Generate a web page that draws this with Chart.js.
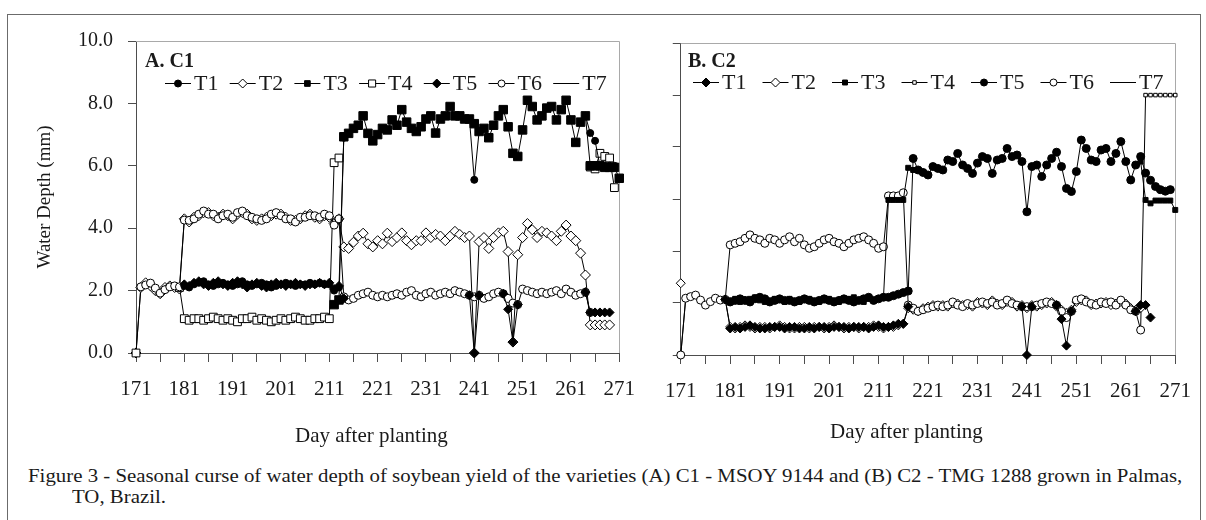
<!DOCTYPE html>
<html>
<head>
<meta charset="utf-8">
<script src="https://cdn.jsdelivr.net/npm/chart.js@4.4.1/dist/chart.umd.min.js"></script>
<style>
  body { margin: 0; background: #fff; }
  #page { position: relative; width: 1206px; height: 520px; overflow: hidden; background: #fff;
          font-family: 'Liberation Serif', 'Times New Roman', serif; }
  #frame { position: absolute; left: 7px; top: 14px; width: 1192px; height: 520px; border: 1px solid #6b6b6b; }
  canvas { position: absolute; top: 0; }
  #chartA { left: 0; }
  #chartB { left: 650px; }
  .xtitle { position: absolute; font-size: 21px; line-height: 26px; color: #1a1a1a; white-space: nowrap; }
  .caption { position: absolute; font-size: 19px; line-height: 23px; color: #1a1a1a; white-space: nowrap;
             transform: scaleX(1.097); transform-origin: left top; }
</style>
</head>
<body>
<div id="page">
  <div id="frame"></div>
  <canvas id="chartA" width="650" height="460"></canvas>
  <canvas id="chartB" width="556" height="460"></canvas>
  <div class="xtitle" style="left:295px; top:422px;">Day after planting</div>
  <div class="xtitle" style="left:830px; top:418px;">Day after planting</div>
  <div class="caption" style="left:28px; top:464px;">Figure 3 - Seasonal curse of water depth of soybean yield of the varieties (A) C1 - MSOY 9144 and (B) C2 - TMG 1288 grown in Palmas,</div>
  <div class="caption" style="left:72px; top:485px;">TO, Brazil.</div>
</div>
<script>
// jours apres plantation : index 0 = jour 171, un point par jour jusqu'a 271
const FIRST_DAY = 171;
const _ = null;

const X_TICKS = [171, 176, 181, 186, 191, 196, 201, 206, 211, 216, 221, 226, 231, 236, 241, 246, 251, 256, 261, 266, 271];
const X_TICK_LABELS = ['171', '', '181', '', '191', '', '201', '', '211', '', '221', '', '231', '', '241', '', '251', '', '261', '', '271'];
const A_Y_TICKS = [0, 2, 4, 6, 8, 10];
const B_Y_TICKS = [0, 1.667, 3.333, 5, 6.667, 8.333, 10];
const SERIES = ['T1', 'T2', 'T3', 'T4', 'T5', 'T6', 'T7'];

// ---- A. C1 ----
const A_T1 = [
  _, _, _, _, _, _, _, _, _, _,
  2.15, 2.1, 2.2, 2.25, 2.3, 2.2, 2.15, 2.2, 2.25, 2.2,
  2.15, 2.2, 2.3, 2.2, 2.15, 2.2, 2.25, 2.2, 2.1, 2.15,
  2.2, 2.25, 2.2, 2.15, 2.2, 2.2, 2.25, 2.2, 2.25, 2.2,
  2.2, 2.0, 2.1, 6.9, _, _, _, _, _, _,
  _, _, _, _, _, _, _, _, _, _,
  _, _, _, _, _, _, _, _, _, 7.5,
  5.55, 7.1, _, _, _, _, _, _, _, _,
  _, _, _, _, _, _, _, _, _, _,
  _, _, _, 7.6, 7.05, 6.8, 6.0, 6.0, 6.0, 6.0,
  _
];
const A_T2 = [
  0, 2.1, 2.25, 2.15, 2.0, 1.9, 2.1, 2.15, 2.1, 2.05,
  4.3, 4.2, 4.35, 4.4, 4.5, 4.5, 4.4, 4.35, 4.45, 4.4,
  4.3, 4.45, 4.5, 4.45, 4.3, 4.25, 4.3, 4.35, 4.4, 4.45,
  4.45, 4.35, 4.25, 4.25, 4.3, 4.4, 4.45, 4.35, 4.3, 4.4,
  4.35, 4.15, 4.3, 3.4, 3.35, 3.55, 3.75, 3.84, 3.5, 3.4,
  3.6, 3.5, 3.84, 3.57, 3.7, 3.85, 3.6, 3.47, 3.6, 3.6,
  3.85, 3.7, 3.8, 3.75, 3.6, 3.75, 3.9, 3.8, 3.7, 3.75,
  0, 3.57, 3.7, 3.35, 3.7, 3.85, 3.9, 3.25, 0.35, 3.15,
  3.7, 4.15, 3.95, 3.7, 3.9, 3.85, 3.75, 3.6, 3.9, 4.1,
  3.75, 3.6, 3.2, 2.5, 0.9, 0.9, 0.9, 0.9, 0.9, _,
  _
];
const A_T3 = [
  _, _, _, _, _, _, _, _, _, _,
  _, _, _, _, _, _, _, _, _, _,
  _, _, _, _, _, _, _, _, _, _,
  _, _, _, _, _, _, _, _, _, _,
  _, 1.55, 1.7, 6.93, 7.04, 7.2, 7.3, 7.6, 7.04, 6.8,
  7.0, 7.2, 7.15, 7.47, 7.3, 7.8, 7.4, 7.2, 7.1, 7.25,
  7.5, 7.6, 7.05, 7.5, 7.6, 7.9, 7.6, 7.6, 7.5, 7.5,
  7.35, 7.1, 7.2, 6.9, 7.3, 7.6, 7.8, 7.25, 6.4, 6.3,
  7.15, 8.1, 7.9, 7.47, 7.6, 7.85, 7.9, 7.47, 7.8, 8.1,
  7.47, 6.75, 7.4, 7.6, 6.0, 6.0, 6.0, 5.95, 5.95, 5.95,
  5.6
];
const A_T4 = [
  0, _, _, _, _, _, _, _, _, 2.1,
  1.1, 1.05, 1.1, 1.1, 1.05, 1.1, 1.15, 1.1, 1.05, 1.1,
  1.05, 1.0, 1.1, 1.1, 1.15, 1.05, 1.1, 1.05, 1.0, 1.05,
  1.1, 1.05, 1.1, 1.15, 1.1, 1.05, 1.05, 1.1, 1.1, 1.15,
  1.1, 6.1, 6.25, _, _, _, _, _, _, _,
  _, _, _, _, _, _, _, _, _, _,
  _, _, _, _, _, _, _, _, _, _,
  _, _, _, _, _, _, _, _, _, _,
  _, _, _, _, _, _, _, _, _, _,
  _, _, _, _, 5.96, 5.9, 6.4, 6.3, 6.25, 5.3,
  _
];
const A_T5 = [
  _, _, _, _, _, _, _, _, _, _,
  2.2, 2.15, 2.25, 2.3, 2.2, 2.15, 2.25, 2.3, 2.2, 2.15,
  2.25, 2.3, 2.2, 2.1, 2.2, 2.25, 2.15, 2.1, 2.2, 2.25,
  2.2, 2.15, 2.2, 2.25, 2.2, 2.15, 2.2, 2.2, 2.25, 2.2,
  2.25, 2.05, 2.15, 1.75, _, _, _, _, _, _,
  _, _, _, _, _, _, _, _, _, _,
  _, _, _, _, _, _, _, _, _, 1.85,
  0, 1.85, _, _, _, _, 1.9, 1.4, 0.35, 1.55,
  _, _, _, _, _, _, _, _, _, _,
  _, _, _, 1.95, 1.3, 1.3, 1.3, 1.3, 1.3, _,
  _
];
const A_T6 = [
  _, 2.12, 2.18, 2.24, 2.08, 1.92, 2.03, 2.12, 2.15, 2.12,
  4.26, 4.25, 4.3, 4.45, 4.55, 4.45, 4.45, 4.3, 4.4, 4.45,
  4.35, 4.5, 4.55, 4.4, 4.35, 4.3, 4.25, 4.3, 4.45, 4.5,
  4.4, 4.3, 4.3, 4.2, 4.35, 4.35, 4.4, 4.4, 4.35, 4.45,
  4.4, 4.1, 4.3, 1.8, 1.7, 1.75, 1.85, 1.9, 1.95, 1.85,
  1.8, 1.85, 1.8, 1.85, 1.9, 1.85, 1.95, 2.0, 1.85, 1.8,
  1.9, 1.95, 1.85, 1.9, 1.95, 1.9, 2.0, 1.95, 1.9, 1.85,
  1.8, 1.85, 1.75, 1.8, 1.9, 1.95, 1.9, 1.75, 1.6, 1.55,
  2.05, 2.0, 1.95, 1.9, 1.95, 1.9, 1.95, 2.0, 1.9, 2.05,
  1.95, 1.85, 1.9, 1.95, 1.3, _, _, _, _, _,
  _
];
const A_T7 = [0, 2.1, 2.2, 2.2, 2.1, 2.0, 2.1, 2.1, 2.1, 2.1];

// ---- B. C2 ----
const B_T1 = [
  _, _, _, _, _, _, _, _, _, 1.78,
  0.85, 0.9, 0.85, 0.9, 0.95, 0.9, 0.85, 0.85, 0.9, 0.9,
  0.9, 0.85, 0.9, 0.9, 0.85, 0.85, 0.9, 0.85, 0.9, 0.9,
  0.85, 0.9, 0.9, 0.9, 0.85, 0.9, 0.9, 0.9, 0.85, 0.9,
  0.95, 0.9, 0.9, 0.95, 1.0, 1.0, 1.55, _, _, _,
  _, _, _, _, _, _, _, _, _, _,
  _, _, _, _, _, _, _, _, _, 1.55,
  0, 1.55, _, _, _, _, 1.6, 1.15, 0.3, 1.4,
  _, _, _, _, _, _, _, _, _, _,
  _, _, 1.4, 1.6, 1.6, 1.2, _, _, _, _,
  _
];
const B_T2 = [
  2.3, _, _, _, _, _, _, _, _, 1.78,
  0.9, 0.85, 0.9, 0.95, 0.9, 0.85, 0.9, 0.9, 0.85, 0.9,
  0.95, 0.9, 0.85, 0.85, 0.9, 0.9, 0.85, 0.9, 0.9, 0.85,
  0.9, 0.95, 0.9, 0.85, 0.9, 0.9, 0.85, 0.9, 0.9, 0.95,
  0.9, 0.85, 0.9, 0.9, 0.95, 1.0, 1.5, 1.45, 1.4, 1.5,
  1.55, 1.6, 1.55, 1.6, 1.55, 1.65, 1.65, 1.6, 1.6, 1.55,
  1.7, 1.65, 1.6, 1.75, 1.65, 1.6, 1.7, 1.7, 1.55, 1.6,
  1.5, 1.6, 1.55, 1.6, 1.65, 1.7, 1.55, 1.45, 1.35, 1.45,
  1.7, 1.75, 1.75, 1.6, 1.65, 1.65, 1.7, 1.6, 1.65, 1.7,
  1.65, 1.5, 1.45, 1.5, _, _, _, _, _, _,
  _
];
const B_T3 = [
  _, _, _, _, _, _, _, _, _, _,
  1.75, 1.8, 1.7, 1.75, 1.8, 1.85, 1.75, 1.7, 1.75, 1.8,
  1.75, 1.7, 1.8, 1.75, 1.7, 1.75, 1.8, 1.75, 1.7, 1.75,
  1.8, 1.75, 1.7, 1.75, 1.8, 1.85, 1.75, 1.7, 1.8, 1.75,
  1.8, 1.85, 4.97, 4.97, 4.97, 4.97, 6.0, 5.93, _, _,
  _, _, _, _, _, _, _, _, _, _,
  _, _, _, _, _, _, _, _, _, _,
  _, _, _, _, _, _, _, _, _, _,
  _, _, _, _, _, _, _, _, _, _,
  _, _, _, 6.2, 4.97, 4.86, 4.95, 4.95, 4.95, 4.95,
  4.65
];
const B_T4 = [
  _, _, _, _, _, _, _, _, _, _,
  _, _, _, _, _, _, _, _, _, _,
  _, _, _, _, _, _, _, _, _, _,
  _, _, _, _, _, _, _, _, _, _,
  _, _, _, _, _, _, _, _, _, _,
  _, _, _, _, _, _, _, _, _, _,
  _, _, _, _, _, _, _, _, _, _,
  _, _, _, _, _, _, _, _, _, _,
  _, _, _, _, _, _, _, _, _, _,
  _, _, _, 0.8, 8.33, 8.33, 8.33, 8.33, 8.33, 8.33,
  8.33
];
const B_T5 = [
  _, _, _, _, _, _, _, _, _, _,
  1.7, 1.75, 1.8, 1.75, 1.7, 1.8, 1.85, 1.8, 1.7, 1.75,
  1.8, 1.75, 1.75, 1.7, 1.75, 1.8, 1.75, 1.7, 1.75, 1.8,
  1.75, 1.7, 1.75, 1.8, 1.75, 1.7, 1.75, 1.8, 1.85, 1.75,
  1.8, 1.85, 1.85, 1.9, 1.95, 2.0, 2.05, 6.3, 5.93, 5.85,
  5.77, 6.04, 5.98, 5.93, 6.25, 6.2, 6.46, 6.09, 5.98, 5.82,
  6.15, 6.36, 6.3, 5.82, 6.25, 6.3, 6.62, 6.36, 6.41, 6.2,
  4.59, 6.04, 6.09, 5.72, 6.09, 6.3, 6.5, 6.04, 5.34, 5.24,
  5.88, 6.89, 6.62, 6.25, 6.2, 6.57, 6.62, 6.2, 6.46, 6.84,
  6.2, 5.61, 6.09, 6.36, 5.83, 5.6, 5.4, 5.3, 5.25, 5.3,
  _
];
const B_T6 = [
  0, 1.82, 1.87, 1.92, 1.76, 1.6, 1.71, 1.82, 1.76, 1.78,
  3.53, 3.58, 3.63, 3.74, 3.85, 3.74, 3.69, 3.58, 3.74, 3.69,
  3.58, 3.69, 3.79, 3.63, 3.74, 3.53, 3.42, 3.47, 3.58, 3.69,
  3.74, 3.63, 3.58, 3.47, 3.58, 3.69, 3.74, 3.79, 3.69, 3.58,
  3.42, 3.47, 5.1, 5.1, 5.1, 5.2, 1.6, 1.5, 1.4, 1.45,
  1.5, 1.55, 1.6, 1.55, 1.6, 1.7, 1.6, 1.55, 1.65, 1.6,
  1.65, 1.7, 1.65, 1.7, 1.6, 1.65, 1.76, 1.65, 1.6, 1.55,
  1.55, 1.55, 1.6, 1.65, 1.7, 1.65, 1.6, 1.4, 1.2, 1.4,
  1.76, 1.8, 1.7, 1.65, 1.6, 1.7, 1.65, 1.7, 1.6, 1.76,
  1.6, 1.45, 1.4, 0.8, _, _, _, _, _, _,
  _
];
const B_T7 = [0, 1.8, 1.85, 1.9, 1.75, 1.6, 1.7, 1.8, 1.75, 1.78];

// styles des marqueurs (forme, rayon, remplissage, rayon legende, ordre de dessin)
const A_STYLES = [
  { shape: 'circle',  r: 3.5, fill: '#000', lr: 3.5, order: 2 },
  { shape: 'rectRot', r: 5,   fill: '#fff', lr: 4.5, order: 5 },
  { shape: 'rect',    r: 6,   fill: '#000', lr: 4,   order: 0 },
  { shape: 'rect',    r: 5.5, fill: '#fff', lr: 5,   order: 4 },
  { shape: 'rectRot', r: 4.5, fill: '#000', lr: 4.5, order: 1 },
  { shape: 'circle',  r: 4,   fill: '#fff', lr: 3.5, order: 3 },
  { shape: 'circle',  r: 0,   fill: '#fff', lr: 0,   order: 6 }
];
const B_STYLES = [
  { shape: 'rectRot', r: 4.5, fill: '#000', lr: 4.5, order: 0 },
  { shape: 'rectRot', r: 4.5, fill: '#fff', lr: 4.5, order: 4 },
  { shape: 'rect',    r: 3.5, fill: '#000', lr: 3.5, order: 2 },
  { shape: 'rect',    r: 2.5, fill: '#fff', lr: 2.5, order: 5 },
  { shape: 'circle',  r: 4,   fill: '#000', lr: 3.5, order: 1 },
  { shape: 'circle',  r: 4,   fill: '#fff', lr: 3.5, order: 3 },
  { shape: 'circle',  r: 0,   fill: '#fff', lr: 0,   order: 6 }
];

const SERIF = "'Liberation Serif', 'Times New Roman', serif";
const TEXT = '#1a1a1a';
const AXIS = '#4d4d4d';

function toPoints(values) {
  return values.map((v, i) => ({ x: FIRST_DAY + i, y: v }));
}

function makeDatasets(seriesValues, styles) {
  return seriesValues.map((values, i) => ({
    label: SERIES[i],
    data: toPoints(values),
    order: styles[i].order,
    borderColor: '#000',
    borderWidth: 1,
    pointStyle: styles[i].shape,
    pointRadius: styles[i].r,
    pointHoverRadius: styles[i].r,
    pointBorderColor: '#000',
    pointBorderWidth: 1,
    pointBackgroundColor: styles[i].fill,
    legendRadius: styles[i].lr,
    tension: 0,
    spanGaps: false,
    clip: false
  }));
}

// cadre gris du panneau, etiquette du panneau et legende en ligne
const panelDecor = {
  id: 'panelDecor',
  beforeDatasetsDraw(chart) {
    const { ctx, chartArea: a } = chart;
    ctx.save();
    ctx.strokeStyle = '#a9a9a9';
    ctx.lineWidth = 1;
    ctx.beginPath();
    ctx.moveTo(a.left, Math.floor(a.top) + 0.5);
    ctx.lineTo(Math.floor(a.right) + 0.5, Math.floor(a.top) + 0.5);
    ctx.lineTo(Math.floor(a.right) + 0.5, a.bottom);
    ctx.stroke();
    ctx.restore();
  },
  afterDraw(chart, args, opts) {
    const ctx = chart.ctx;
    ctx.save();
    ctx.fillStyle = TEXT;
    ctx.textBaseline = 'middle';
    ctx.textAlign = 'left';
    ctx.font = 'bold 20px ' + SERIF;
    ctx.fillText(opts.panel, opts.panelX, opts.panelY);
    ctx.font = '22px ' + SERIF;
    chart.data.datasets.forEach((ds, i) => {
      const x0 = opts.legendX + i * opts.legendStep;
      const y = opts.legendY;
      ctx.strokeStyle = '#000';
      ctx.lineWidth = 1;
      ctx.beginPath();
      ctx.moveTo(x0, y + 0.5);
      ctx.lineTo(x0 + 26, y + 0.5);
      ctx.stroke();
      if (ds.legendRadius > 0) {
        ctx.fillStyle = ds.pointBackgroundColor;
        ctx.strokeStyle = '#000';
        Chart.helpers.drawPoint(ctx, { pointStyle: ds.pointStyle, radius: ds.legendRadius, borderWidth: 1, rotation: 0 }, x0 + 13, y + 0.5);
      }
      ctx.fillStyle = TEXT;
      ctx.fillText(ds.label, x0 + 29, y + 1);
    });
    ctx.restore();
  }
};

function makeChart(canvasId, datasets, cfg) {
  return new Chart(document.getElementById(canvasId), {
    type: 'line',
    data: { datasets: datasets },
    plugins: [panelDecor],
    options: {
      responsive: false,
      animation: false,
      devicePixelRatio: 1,
      layout: { padding: cfg.padding },
      plugins: {
        legend: { display: false },
        tooltip: { enabled: false },
        panelDecor: cfg.decor
      },
      scales: {
        x: {
          type: 'linear',
          min: 171,
          max: 271,
          afterBuildTicks: s => { s.ticks = X_TICKS.map(v => ({ value: v })); },
          afterFit: s => { s.height = cfg.xHeight; },
          ticks: {
            autoSkip: false,
            maxRotation: 0,
            padding: cfg.xPad,
            color: TEXT,
            font: { family: SERIF, size: 21 },
            callback: (v, i) => X_TICK_LABELS[i]
          },
          grid: { drawOnChartArea: false, drawTicks: true, tickLength: 9, color: AXIS },
          border: { display: true, color: AXIS, width: 1 }
        },
        y: {
          min: 0,
          max: 10,
          afterBuildTicks: s => { s.ticks = cfg.yTicks.map(v => ({ value: v })); },
          afterFit: s => { s.width = cfg.yWidth; },
          ticks: {
            padding: 15,
            color: TEXT,
            font: { family: SERIF, size: 20 },
            callback: v => cfg.yLabels ? v.toFixed(1) : ''
          },
          grid: { drawOnChartArea: false, drawTicks: true, tickLength: 8, color: AXIS },
          border: { display: true, color: AXIS, width: 1 },
          title: {
            display: cfg.yLabels,
            text: 'Water Depth (mm)',
            color: TEXT,
            font: { family: SERIF, size: 19 },
            padding: { top: 34, bottom: 0 }
          }
        }
      }
    }
  });
}

makeChart('chartA',
  makeDatasets([A_T1, A_T2, A_T3, A_T4, A_T5, A_T6, A_T7], A_STYLES),
  {
    padding: { left: 0, top: 41, right: 24, bottom: 0 },
    xHeight: 107, xPad: 15, yWidth: 136, yTicks: A_Y_TICKS, yLabels: true,
    decor: { panel: 'A. C1', panelX: 145, panelY: 62, legendX: 165, legendY: 83, legendStep: 64.7 }
  });

makeChart('chartB',
  makeDatasets([B_T1, B_T2, B_T3, B_T4, B_T5, B_T6, B_T7], B_STYLES),
  {
    padding: { left: 0, top: 43, right: 30, bottom: 0 },
    xHeight: 105, xPad: 15, yWidth: 23, yTicks: B_Y_TICKS, yLabels: false,
    decor: { panel: 'B. C2', panelX: 38, panelY: 62, legendX: 43, legendY: 82, legendStep: 69.5 }
  });
</script>
</body>
</html>
